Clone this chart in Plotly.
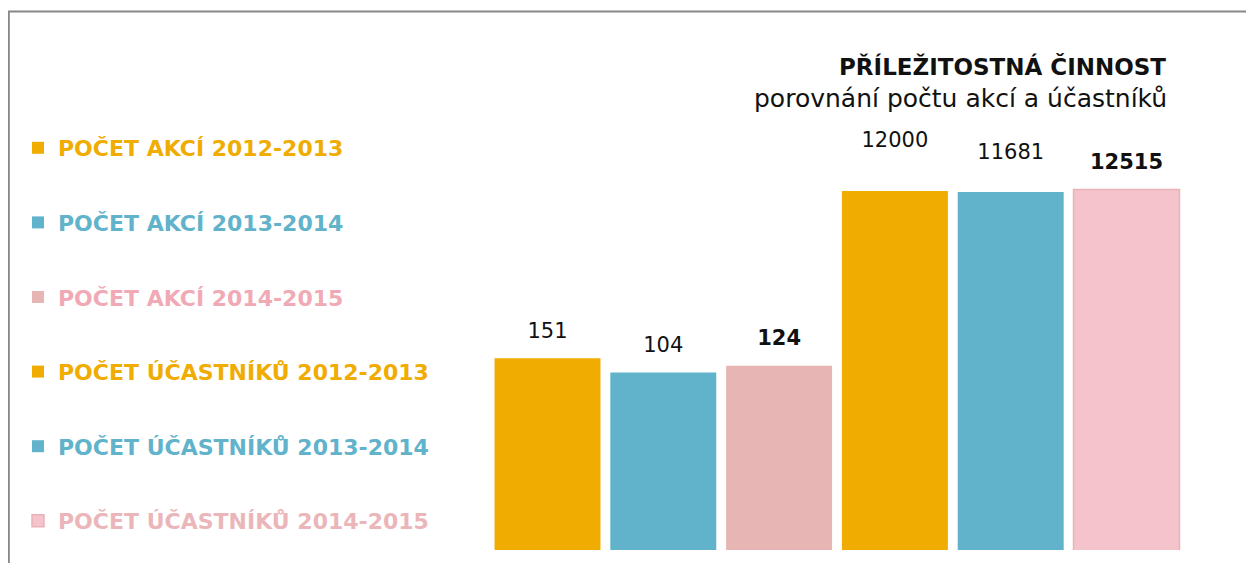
import plotly.graph_objects as go

# ---- data ----
category = ["Příležitostná činnost"]
series_names = [
    "POČET AKCÍ 2012-2013",
    "POČET AKCÍ 2013-2014",
    "POČET AKCÍ 2014-2015",
    "POČET ÚČASTNÍKŮ 2012-2013",
    "POČET ÚČASTNÍKŮ 2013-2014",
    "POČET ÚČASTNÍKŮ 2014-2015",
]
series_values = [151, 104, 124, 12000, 11681, 12515]

# ---- styles ----
bar_colors = ["#F0AC00", "#61B3CB", "#E8B5B5", "#F0AC00", "#61B3CB", "#F4C3CB"]
line_colors = ["#F0AC00", "#61B3CB", "#E8B5B5", "#F0AC00", "#61B3CB", "#E9B2B8"]
legend_text_colors = ["#F0AC00", "#61B3CB", "#F1AAB5", "#F0AC00", "#61B3CB", "#EBB6B9"]
bold_label = [False, False, True, False, False, True]
label_lift = [11, 11, 11, 27, 19.5, 11]  # spacing font size controlling label gap
FONT = "DejaVu Sans"

OFF = 8  # page body margin
W, H = 1254 - OFF, 563 - OFF
MB = 13
PH = H - MB


def px(x):
    return (x - OFF) / W


def py(y):
    return (PH - (y - OFF)) / PH


fig = go.Figure()
for i, (name, val) in enumerate(zip(series_names, series_values)):
    inner = "<b>%{text}</b>" if bold_label[i] else "%{text}"
    fig.add_trace(go.Bar(
        x=category,
        y=[val],
        text=[str(val)],
        name=f"<span style='color:{legend_text_colors[i]}'><b>{name}</b></span>",
        marker=dict(color=bar_colors[i], line=dict(color=line_colors[i], width=1.5 if i == 5 else 0)),
        texttemplate=f"<span style='font-size:21px'>{inner}</span><br> ",
        textposition="outside",
        textfont=dict(family=FONT, size=label_lift[i], color="#111111"),
        cliponaxis=False,
        legendgroup=f"g{i}",
        hoverinfo="skip",
    ))

fig.update_layout(
    width=W, height=H,
    barmode="group",
    bargap=0,
    bargroupgap=0.085,
    margin=dict(l=0, r=0, t=0, b=MB),
    paper_bgcolor="white",
    plot_bgcolor="white",
    font=dict(family=FONT),
    uniformtext=dict(minsize=0),
    xaxis=dict(domain=[px(489.6), px(1184.4)], visible=False),
    yaxis=dict(type="log", range=[0, 5], domain=[0, py(110)], visible=False),
    legend=dict(
        x=10 / W, xanchor="left",
        y=(PH - 119) / PH, yanchor="top",
        font=dict(family=FONT, size=22),
        tracegroupgap=43,
        bgcolor="rgba(0,0,0,0)",
    ),
    showlegend=True,
)

fig.add_annotation(
    text="<b>PŘÍLEŽITOSTNÁ ČINNOST</b>",
    xref="paper", yref="paper", x=px(1168), y=py(66),
    xanchor="right", yanchor="middle", showarrow=False,
    font=dict(family=FONT, size=23, color="#111111"),
)
fig.add_annotation(
    text="porovnání počtu akcí a účastníků",
    xref="paper", yref="paper", x=px(1169), y=py(99),
    xanchor="right", yanchor="middle", showarrow=False,
    font=dict(family=FONT, size=25, color="#111111"),
)

# chart frame
fig.add_shape(
    type="rect", xref="paper", yref="paper",
    x0=px(8.8), x1=1.05, y0=-0.1, y1=py(11.5),
    line=dict(color="#888888", width=2), fillcolor="rgba(0,0,0,0)", layer="below",
)

fig.write_html("out.html")
